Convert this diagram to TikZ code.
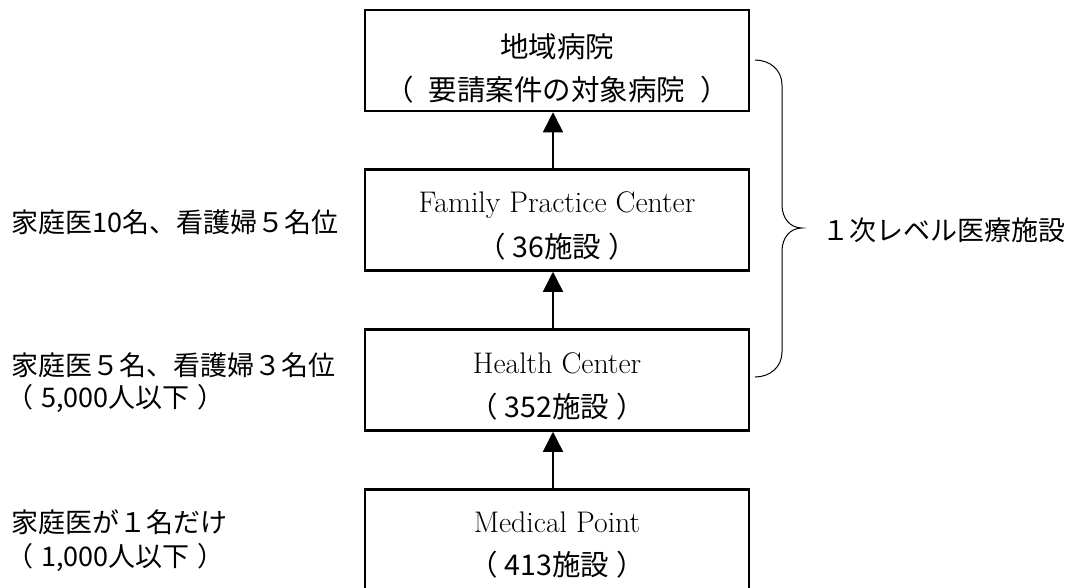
\documentclass[tikz,border=0pt]{standalone}
\usepackage{fontspec}
\newfontfamily\jp{Noto Sans CJK JP}
\usetikzlibrary{arrows.meta}
\newcommand\myop[1]{（\kern#1\relax}
\newcommand\mycp[1]{\kern#1）}
\tikzset{
  box/.style={draw=black, line width=2.5pt, minimum width=384pt, minimum height=101pt, inner sep=0pt},
  en/.style={font=\fontsize{29.8}{33}\selectfont, inner sep=0pt},
  ja/.style={font=\jp\fontsize{27}{32}\selectfont, inner sep=0pt},
  jb/.style={font=\jp\fontsize{28.5}{32}\selectfont, inner sep=0pt},
  upar/.style={line width=1.5pt, -{Triangle[width=20pt,length=20pt]}},
  brace/.style={line width=1pt}
}
\begin{document}
\begin{tikzpicture}[x=1pt,y=-1pt]
\useasboundingbox (0,0) rectangle (1074,587);
% boxes
\node[box] (b1) at (557,60.5) {};
\node[box] (b2) at (557,220) {};
\node[box] (b3) at (557,380) {};
\node[box] (b4) at (557,540) {};
% box texts
\node[jb] (t1a) at (557,47) {地域病院};
\node[jb] (t1b) at (557,90) {\myop{15pt}要請案件の対象病院\mycp{15pt}};
\node[en] (t2a) at (557,205) {Family Practice Center};
\node[jb] (t2b) at (557,247) {\myop{7pt}36施設\mycp{7pt}};
\node[en] (t3a) at (557,363) {Health Center};
\node[jb] (t3b) at (557,407) {\myop{7pt}352施設\mycp{7pt}};
\node[en] (t4a) at (557,522) {Medical Point};
\node[jb] (t4b) at (557,565) {\myop{7pt}413施設\mycp{7pt}};
% arrows
\draw[upar] ([xshift=-4pt]b2.north) -- ([xshift=-4pt]b1.south);
\draw[upar] ([xshift=-4pt]b3.north) -- ([xshift=-4pt]b2.south);
\draw[upar] ([xshift=-4pt]b4.north) -- ([xshift=-4pt]b3.south);
% left notes
\node[ja, anchor=west] (n1) at (11,222) {家庭医10名、看護婦５名位};
\node[ja, anchor=west] (n2) at (11,365) {家庭医５名、看護婦３名位};
\node[ja, anchor=west] (n3) at (6,399) {\myop{8pt}5,000人以下\mycp{8pt}};
\node[ja, anchor=west] (n4) at (11,522) {家庭医が１名だけ};
\node[ja, anchor=west] (n5) at (6,557) {\myop{8pt}1,000人以下\mycp{8pt}};
% brace
\coordinate (bt) at (755,60);
\coordinate (bm) at (802,228);
\coordinate (bb) at (755,377);
\draw[brace] (bt) .. controls (770,60) and (782,70) .. (782,85)
  -- (782,205) .. controls (782,218) and (790,228) .. (bm)
  .. controls (790,228) and (782,238) .. (782,251)
  -- (782,352) .. controls (782,367) and (770,377) .. (bb);
\node[ja, anchor=west] (lv) at (822,230) {１次レベル医療施設};
\end{tikzpicture}
\end{document}
